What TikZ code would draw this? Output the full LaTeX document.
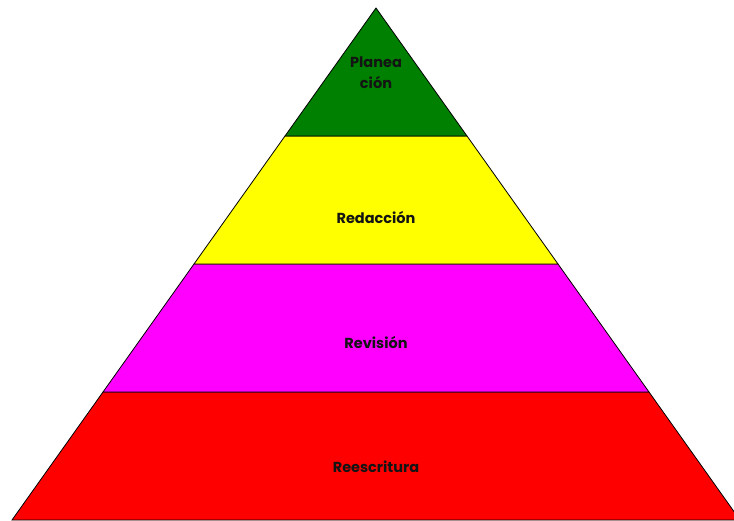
\documentclass[tikz,border=0pt]{standalone}
\usepackage{fontspec}
\setmainfont{Poppins}
\definecolor{planeacolor}{RGB}{0,128,0}
\definecolor{redaccolor}{RGB}{255,255,0}
\definecolor{reviscolor}{RGB}{255,0,255}
\definecolor{reescolor}{RGB}{255,0,0}
\definecolor{textcolor}{RGB}{20,20,20}
\begin{document}
\begin{tikzpicture}[x=1pt,y=-1pt,
  layer/.style={draw=black,line width=0.8pt,line join=miter},
  label/.style={text=textcolor,font=\fontsize{14.5}{21}\selectfont\bfseries,align=center}]
\useasboundingbox (0,0) rectangle (734,520);
\clip (0,0) rectangle (734,520);

\filldraw[layer,fill=reescolor] (12,520) -- (103,392) -- (649,392) -- (740,520) -- cycle;
\filldraw[layer,fill=reviscolor] (103,392) -- (194,264) -- (558,264) -- (649,392) -- cycle;
\filldraw[layer,fill=redaccolor] (194,264) -- (285,136) -- (467,136) -- (558,264) -- cycle;
\filldraw[layer,fill=planeacolor] (285,136) -- (376,8) -- (467,136) -- cycle;

\node[label] (planeacion) at (376,73) {Planea\\ción};
\node[label] (redaccion) at (376,218) {Redacción};
\node[label] (revision) at (376,343) {Revisión};
\node[label] (reescritura) at (376,467) {Reescritura};
\end{tikzpicture}
\end{document}
